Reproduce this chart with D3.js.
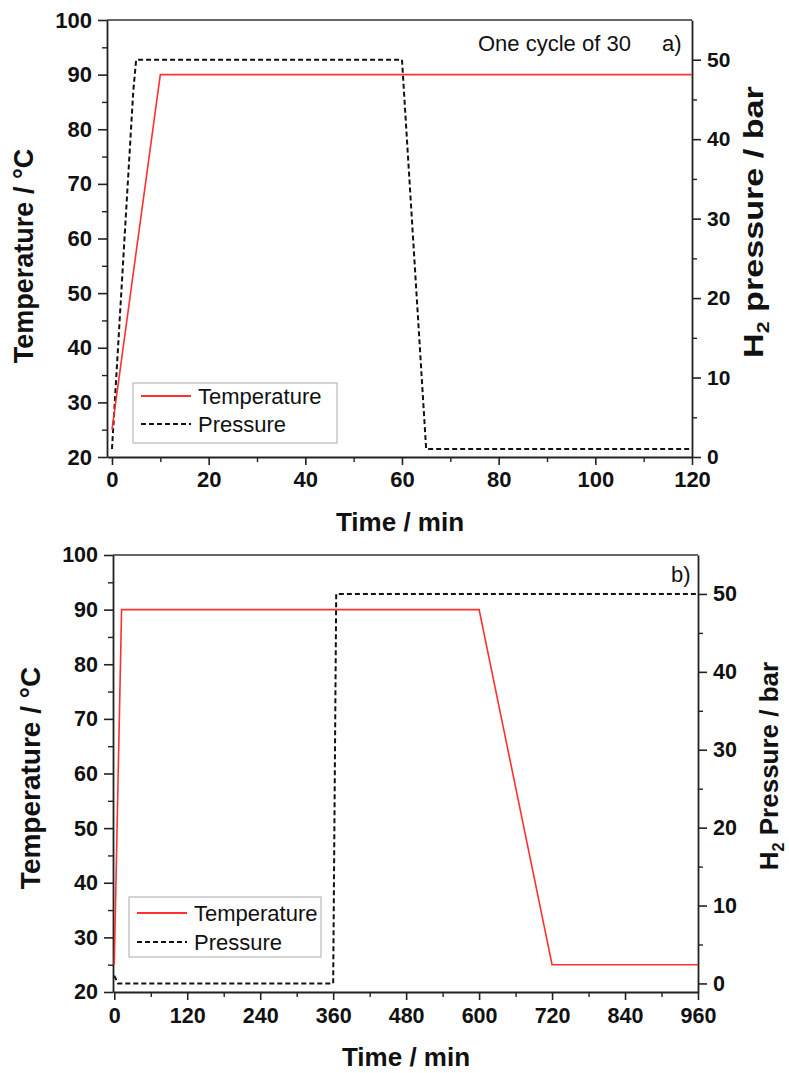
<!DOCTYPE html>
<html>
<head>
<meta charset="utf-8">
<script src="https://cdn.jsdelivr.net/npm/d3@7"></script>
<style>
  html, body { margin: 0; padding: 0; background: #ffffff; }
  svg { display: block; }
  text { font-family: "Liberation Sans", Arial, Helvetica, sans-serif; fill: #111; }
</style>
</head>
<body>
<svg id="chart" width="789" height="1073"></svg>
<script>
// ---------- DATA ----------
// Panel a) one cycle
const aTempTime = [0, 10, 120];
const aTemp = [25, 90, 90];
const aPresTime = [0, 4.4, 5, 60, 65, 120];
const aPres = [1, 46, 50, 50, 1, 1];
const aXTicks = [0, 20, 40, 60, 80, 100, 120];
const aXMinor = [10, 30, 50, 70, 90, 110];

// Panel b)
const bTempTime = [0, 12, 600, 720, 960];
const bTemp = [25, 90, 90, 25, 25];
const bPresTime = [0, 6, 360, 365, 960];
const bPres = [1, 0, 0, 50, 50];
const bXTicks = [0, 120, 240, 360, 480, 600, 720, 840, 960];
const bXMinor = [60, 180, 300, 420, 540, 660, 780, 900];

const tempTicks = [20, 30, 40, 50, 60, 70, 80, 90, 100];
const tempMinor = [25, 35, 45, 55, 65, 75, 85, 95];
const presTicks = [0, 10, 20, 30, 40, 50];
const presMinor = [5, 15, 25, 35, 45];

const legendLabels = ["Temperature", "Pressure"];

// ---------- DRAW ----------
const svg = d3.select("#chart");
const RED = "#ff3030";

function drawPanel(p) {
  const g = svg.append("g");
  const x = d3.scaleLinear().domain(p.xDomain).range([p.x0, p.x1]);
  const yT = d3.scaleLinear().domain([20, 100]).range([p.y1, p.y0]);
  const yP = d3.scaleLinear().domain(p.pDomain).range([p.y1, p.y0]);

  // top frame line
  g.append("line").attr("x1", p.x0).attr("x2", p.x1).attr("y1", p.y0).attr("y2", p.y0)
    .attr("stroke", "#333").attr("stroke-width", 1.6);

  function styleAxis(sel, fs) {
    sel.selectAll("path.domain").attr("stroke", "#222").attr("stroke-width", 1.8);
    sel.selectAll(".tick line").attr("stroke", "#222").attr("stroke-width", 1.6);
    sel.selectAll(".tick text").attr("font-size", fs + "px").attr("font-weight", "bold")
      .attr("font-family", "Liberation Sans, Arial, sans-serif").attr("fill", "#111");
  }
  function minor(sel) {
    sel.selectAll(".tick line").attr("stroke", "#222").attr("stroke-width", 1.4);
    sel.selectAll(".tick text").remove();
    sel.selectAll("path.domain").remove();
  }

  // minor ticks
  g.append("g").attr("transform", `translate(0,${p.y1})`)
    .call(d3.axisBottom(x).tickValues(p.xMinor).tickSize(5).tickFormat(""))
    .call(minor);
  g.append("g").attr("transform", `translate(${p.x0},0)`)
    .call(d3.axisLeft(yT).tickValues(tempMinor).tickSize(5).tickFormat(""))
    .call(minor);
  g.append("g").attr("transform", `translate(${p.x1},0)`)
    .call(d3.axisRight(yP).tickValues(presMinor).tickSize(5).tickFormat(""))
    .call(minor);

  // major axes
  g.append("g").attr("transform", `translate(0,${p.y1})`)
    .call(d3.axisBottom(x).tickValues(p.xTicks).tickSize(8).tickSizeOuter(0).tickPadding(p.xPad).tickFormat(d3.format("d")))
    .call(s => styleAxis(s, p.tickFs));
  g.append("g").attr("transform", `translate(${p.x0},0)`)
    .call(d3.axisLeft(yT).tickValues(tempTicks).tickSize(9).tickSizeOuter(0).tickPadding(6).tickFormat(d3.format("d")))
    .call(s => styleAxis(s, p.tickFs));
  g.append("g").attr("transform", `translate(${p.x1},0)`)
    .call(d3.axisRight(yP).tickValues(presTicks).tickSize(9).tickSizeOuter(0).tickPadding(6).tickFormat(d3.format("d")))
    .call(s => styleAxis(s, p.rTickFs));

  // lines
  const tData = p.tempTime.map((t, i) => [t, p.temp[i]]);
  const pData = p.presTime.map((t, i) => [t, p.pres[i]]);
  g.append("path").datum(pData)
    .attr("d", d3.line().x(d => x(d[0])).y(d => yP(d[1])))
    .attr("fill", "none").attr("stroke", "#111").attr("stroke-width", 2)
    .attr("stroke-dasharray", "5,3");
  g.append("path").datum(tData)
    .attr("d", d3.line().x(d => x(d[0])).y(d => yT(d[1])))
    .attr("fill", "none").attr("stroke", RED).attr("stroke-width", 1.6);

  // legend
  const L = p.legend;
  g.append("rect").attr("x", L.x).attr("y", L.y).attr("width", L.w).attr("height", L.h)
    .attr("fill", "#fff").attr("stroke", "#aaa").attr("stroke-width", 1);
  g.append("line").attr("x1", L.x + 8).attr("x2", L.x + 58).attr("y1", L.r1).attr("y2", L.r1)
    .attr("stroke", RED).attr("stroke-width", 2);
  g.append("line").attr("x1", L.x + 8).attr("x2", L.x + 58).attr("y1", L.r2).attr("y2", L.r2)
    .attr("stroke", "#111").attr("stroke-width", 2).attr("stroke-dasharray", "5,3");
  g.append("text").attr("x", L.x + 65).attr("y", L.r1 + 8).attr("font-size", "22px").text(legendLabels[0]);
  g.append("text").attr("x", L.x + 65).attr("y", L.r2 + 8).attr("font-size", "22px").text(legendLabels[1]);

  // axis titles
  g.append("text").attr("x", p.xt.x).attr("y", p.xt.y).attr("text-anchor", "middle")
    .attr("font-size", p.xt.fs + "px").attr("font-weight", "bold").text("Time / min");
  g.append("text").attr("transform", `translate(${p.lt.x},${p.lt.y}) rotate(-90)`)
    .attr("text-anchor", "middle").attr("font-size", p.lt.fs + "px").attr("font-weight", "bold")
    .text("Temperature / °C");
  const rt = g.append("text").attr("transform", `translate(${p.rt.x},${p.rt.y}) rotate(-90) scale(${p.rt.sx},1)`)
    .attr("text-anchor", "middle").attr("font-size", p.rt.fs + "px").attr("font-weight", "bold");
  rt.append("tspan").text("H");
  rt.append("tspan").attr("font-size", (p.rt.fs * 0.62) + "px").attr("dy", "0.35em").text("2");
  rt.append("tspan").attr("dy", "-0.22em").text(" " + p.rt.word + " / bar");

  // annotations
  p.notes.forEach(n => {
    g.append("text").attr("x", n.x).attr("y", n.y).attr("font-size", n.fs + "px")
      .attr("text-anchor", n.anchor || "start").text(n.t);
  });
}

drawPanel({
  x0: 107, x1: 692, y0: 20, y1: 457,
  xDomain: [-1.03, 120], pDomain: [0, 55],
  xTicks: aXTicks, xMinor: aXMinor, xPad: 6, tickFs: 22, rTickFs: 21,
  tempTime: aTempTime, temp: aTemp, presTime: aPresTime, pres: aPres,
  legend: { x: 133, y: 383, w: 204, h: 60, r1: 396, r2: 424 },
  xt: { x: 400, y: 531, fs: 26 },
  lt: { x: 33, y: 256, fs: 27 },
  rt: { x: 763, y: 222, fs: 28, sx: 1.22, word: "pressure" },
  notes: [
    { x: 478, y: 51, fs: 22, t: "One cycle of 30" },
    { x: 662, y: 51, fs: 22, t: "a)" }
  ]
});

drawPanel({
  x0: 113, x1: 698, y0: 555, y1: 992,
  xDomain: [-2.1, 960], pDomain: [-1.1, 55],
  xTicks: bXTicks, xMinor: bXMinor, xPad: 8, tickFs: 21.5, rTickFs: 21.5,
  tempTime: bTempTime, temp: bTemp, presTime: bPresTime, pres: bPres,
  legend: { x: 129, y: 897, w: 192, h: 60, r1: 913, r2: 942 },
  xt: { x: 406, y: 1066, fs: 26 },
  lt: { x: 40, y: 778, fs: 28 },
  rt: { x: 778, y: 766, fs: 26, sx: 1, word: "Pressure" },
  notes: [
    { x: 671, y: 582, fs: 22, t: "b)" }
  ]
});
</script>
</body>
</html>
